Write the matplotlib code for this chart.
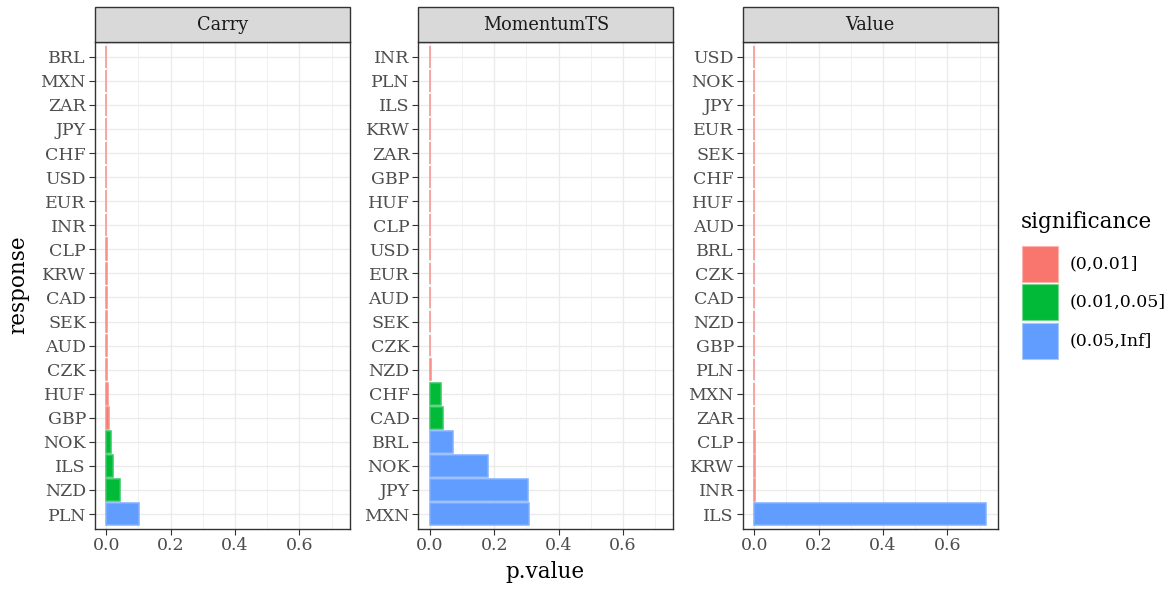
import numpy as np
import matplotlib
matplotlib.use("Agg")
import matplotlib.pyplot as plt
from matplotlib.patches import Rectangle
from matplotlib.colors import to_rgb

plt.rcParams["font.family"] = ["DejaVu Serif"]

# ------------------------------------------------------------------
# data (top -> bottom as shown in each facet)
# ------------------------------------------------------------------
carry_ccy = ["BRL", "MXN", "ZAR", "JPY", "CHF", "USD", "EUR", "INR", "CLP", "KRW",
             "CAD", "SEK", "AUD", "CZK", "HUF", "GBP", "NOK", "ILS", "NZD", "PLN"]
carry_p = [0.00001, 0.00002, 0.00005, 0.0001, 0.0002, 0.0003, 0.0004, 0.0005, 0.0007, 0.0009,
           0.0012, 0.0015, 0.0018, 0.0022, 0.004, 0.008, 0.015, 0.021, 0.042, 0.103]

mom_ccy = ["INR", "PLN", "ILS", "KRW", "ZAR", "GBP", "HUF", "CLP", "USD", "EUR",
           "AUD", "SEK", "CZK", "NZD", "CHF", "CAD", "BRL", "NOK", "JPY", "MXN"]
mom_p = [0.00001, 0.00002, 0.00004, 0.00006, 0.0001, 0.00015, 0.0002, 0.0003, 0.0004, 0.0005,
         0.0007, 0.0009, 0.0012, 0.003, 0.034, 0.041, 0.073, 0.180, 0.304, 0.307]

value_ccy = ["USD", "NOK", "JPY", "EUR", "SEK", "CHF", "HUF", "AUD", "BRL", "CZK",
             "CAD", "NZD", "GBP", "PLN", "MXN", "ZAR", "CLP", "KRW", "INR", "ILS"]
value_p = [0.000001, 0.000002, 0.000004, 0.000006, 0.00001, 0.00002, 0.00003, 0.00005, 0.00007, 0.0001,
           0.00015, 0.0002, 0.0003, 0.0004, 0.0005, 0.0006, 0.0008, 0.001, 0.0015, 0.72]

facets = [("Carry", carry_ccy, carry_p),
          ("MomentumTS", mom_ccy, mom_p),
          ("Value", value_ccy, value_p)]

sig_labels = ["(0,0.01]", "(0.01,0.05]", "(0.05,Inf]"]
sig_colors = ["#F8766D", "#00BA38", "#619CFF"]


def significance(p):
    if p <= 0.01:
        return 0
    if p <= 0.05:
        return 1
    return 2


def lighten(c, f=0.2):
    r, g, b = to_rgb(c)
    return (r + (1 - r) * f, g + (1 - g) * f, b + (1 - b) * f)


# ------------------------------------------------------------------
# figure
# ------------------------------------------------------------------
W, H = 1174, 589
fig = plt.figure(figsize=(W / 100, H / 100), dpi=100)

panel_left = [94.7, 418.3, 742.7]
panel_w = 255.0
panel_top, panel_bot = 42.3, 528.5
strip_top = 6.7

all_p = carry_p + mom_p + value_p
pmax = max(all_p)
xlim = (-0.05 * pmax, 1.05 * pmax)

grid_col = "#EBEBEB"
dark = "#333333"
tick_col = "#4D4D4D"

for (name, ccy, pv), left in zip(facets, panel_left):
    ax = fig.add_axes([left / W, 1 - panel_bot / H, panel_w / W, (panel_bot - panel_top) / H])
    n = len(ccy)
    ypos = np.arange(n)[::-1]  # top of list at top of panel
    cols = [sig_colors[significance(p)] for p in pv]
    edges = [lighten(c) for c in cols]
    ax.barh(ypos, pv, height=0.9, color=cols, edgecolor=edges, linewidth=1.1, zorder=3)

    ax.set_xlim(*xlim)
    ax.set_ylim(-0.6, n - 0.4)
    ax.set_yticks(ypos)
    ax.set_yticklabels(ccy)
    ax.set_xticks([0.0, 0.2, 0.4, 0.6])
    ax.set_xticklabels(["0.0", "0.2", "0.4", "0.6"])
    ax.set_xticks([0.1, 0.3, 0.5, 0.7], minor=True)

    ax.grid(True, which="major", color=grid_col, linewidth=1.0, zorder=0)
    ax.grid(True, which="minor", axis="x", color=grid_col, linewidth=0.5, zorder=0)
    ax.set_axisbelow(True)

    ax.tick_params(axis="both", which="major", length=4.3, width=0.8, color=dark,
                   labelsize=12.5, labelcolor=tick_col, pad=2)
    ax.tick_params(axis="x", which="minor", length=0)
    for sp in ax.spines.values():
        sp.set_color(dark)
        sp.set_linewidth(1.0)

    # facet strip
    sh = (panel_top - strip_top) / (panel_bot - panel_top)
    ax.add_patch(Rectangle((0, 1), 1, sh, transform=ax.transAxes, facecolor="#D9D9D9",
                           edgecolor=dark, linewidth=1.0, clip_on=False, zorder=5))
    ax.text(0.5, 1 + sh / 2, name, transform=ax.transAxes, ha="center", va="center",
            fontsize=12.8, color="#1A1A1A", zorder=6)

fig.text(18 / W, 1 - 285 / H, "response", rotation=90, ha="center", va="center",
         fontsize=15.5, color="black")
fig.text(545 / W, 1 - 572 / H, "p.value", ha="center", va="center",
         fontsize=15.5, color="black")

# legend
fig.text(1021 / W, 1 - 222 / H, "significance", ha="left", va="center",
         fontsize=15.5, color="black")
key_tops = [245.7, 284.0, 322.7]
for lab, col, kt in zip(sig_labels, sig_colors, key_tops):
    fig.patches.append(Rectangle((1022 / W, 1 - (kt + 36) / H), 36 / W, 36 / H,
                                 transform=fig.transFigure, facecolor=col,
                                 edgecolor=lighten(col, 0.45), linewidth=0.8))
    fig.text(1070 / W, 1 - (kt + 18) / H, lab, ha="left", va="center",
             fontsize=12.5, color="black")

fig.savefig("out.png", dpi=100)
